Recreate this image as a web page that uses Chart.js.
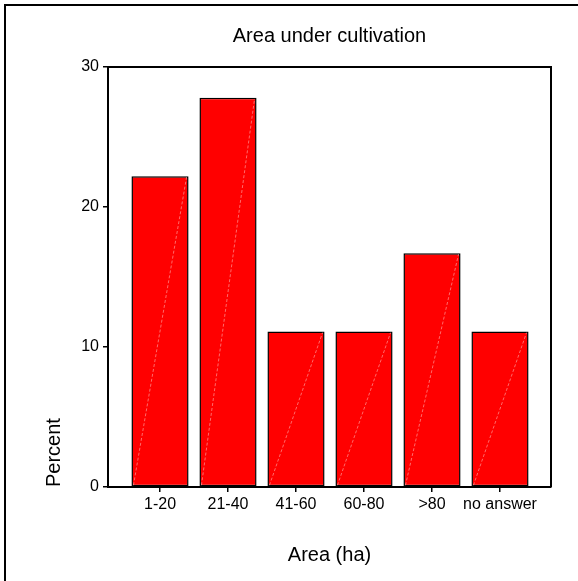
<!DOCTYPE html>
<html>
<head>
<meta charset="utf-8">
<title>Area under cultivation</title>
<script src="https://cdn.jsdelivr.net/npm/chart.js@4"></script>
<style>
	body{margin:0;background:#fff;}
	#marco{position:absolute;left:4px;top:4px;right:0;bottom:0;border-top:2px solid #000;border-left:2px solid #000;}
	#grafico{position:absolute;left:0;top:0;}
</style>
</head>
<body>
<div id="marco"></div>
<canvas id="grafico" width="578" height="581"></canvas>
<script>
var categorias = ['1-20', '21-40', '41-60', '60-80', '>80', 'no answer'];
var porcentajes = [22.2, 27.8, 11.1, 11.1, 16.7, 11.1];
var ticksY = [0, 10, 20, 30];
var fuente = "'Liberation Sans', Arial, sans-serif";

// marco del area de trazado (arriba y derecha)
var marcoPlot = {
	id: 'marcoPlot',
	afterDatasetsDraw: function(chart){
		var a = chart.chartArea;
		var ctx = chart.ctx;
		ctx.save();
		ctx.strokeStyle = '#000';
		ctx.lineWidth = 2;
		ctx.beginPath();
		ctx.moveTo(a.left, a.top);
		ctx.lineTo(a.right, a.top);
		ctx.lineTo(a.right, a.bottom);
		ctx.stroke();
		ctx.restore();
	}
};

// linea diagonal tenue dentro de cada barra
var diagonal = {
	id: 'diagonal',
	afterDatasetsDraw: function(chart){
		var ctx = chart.ctx;
		var meta = chart.getDatasetMeta(0);
		ctx.save();
		ctx.strokeStyle = 'rgba(255,190,190,0.7)';
		ctx.lineWidth = 0.8;
		ctx.setLineDash([3, 2]);
		for (var i = 0; i < meta.data.length; i++) {
			var b = meta.data[i].getProps(['x', 'y', 'base', 'width'], true);
			ctx.beginPath();
			ctx.moveTo(b.x - b.width/2 + 2, b.base - 1);
			ctx.lineTo(b.x + b.width/2 - 2, b.y + 1);
			ctx.stroke();
		}
		ctx.restore();
	}
};

var datos = [];
for (var i = 0; i < porcentajes.length; i++) {
	datos.push({x: i, y: porcentajes[i]});
}

var config = {
	type: 'bar',
	data: {
		datasets: [{
			data: datos,
			backgroundColor: '#ff0000',
			borderColor: '#000',
			borderWidth: 1.5,
			borderSkipped: false,
			categoryPercentage: 1,
			barPercentage: 0.84
		}]
	},
	options: {
		responsive: false,
		animation: false,
		layout: {
			padding: {left: 8, right: 27, top: 8, bottom: 0}
		},
		plugins: {
			legend: {display: false},
			tooltip: {enabled: false},
			title: {
				display: true,
				text: 'Area under cultivation',
				fullSize: false,
				color: '#000',
				font: {family: fuente, size: 20, weight: 'normal'},
				padding: {top: 16, bottom: 19}
			}
		},
		scales: {
			x: {
				type: 'linear',
				offset: false,
				min: -0.765,
				max: 5.75,
				afterFit: function(scale){ scale.height = 94; },
				afterBuildTicks: function(scale){
					scale.ticks = categorias.map(function(c, i){ return {value: i}; });
				},
				ticks: {
					color: '#000',
					padding: 3,
					maxRotation: 0,
					autoSkip: false,
					font: {family: fuente, size: 16},
					callback: function(v){ return categorias[v]; }
				},
				grid: {offset: false, drawOnChartArea: false, tickLength: 5, color: '#000', lineWidth: 1.5},
				border: {display: true, color: '#000', width: 2},
				title: {
					display: true,
					text: 'Area (ha)',
					color: '#000',
					font: {family: fuente, size: 20},
					padding: {bottom: 14}
				}
			},
			y: {
				min: 0,
				max: 30,
				afterFit: function(scale){ scale.width = 100; },
				afterBuildTicks: function(scale){
					scale.ticks = ticksY.map(function(v){ return {value: v}; });
				},
				ticks: {
					color: '#000',
					padding: 4,
					font: {family: fuente, size: 16}
				},
				grid: {drawOnChartArea: false, tickLength: 5, color: '#000', lineWidth: 1.5},
				border: {display: true, color: '#000', width: 2},
				title: {
					display: true,
					text: 'Percent',
					align: 'start',
					color: '#000',
					font: {family: fuente, size: 20},
					padding: {top: 34}
				}
			}
		}
	},
	plugins: [marcoPlot, diagonal]
};

var ctx = document.getElementById('grafico').getContext('2d');
window.miGrafico = new Chart(ctx, config);
</script>
</body>
</html>
